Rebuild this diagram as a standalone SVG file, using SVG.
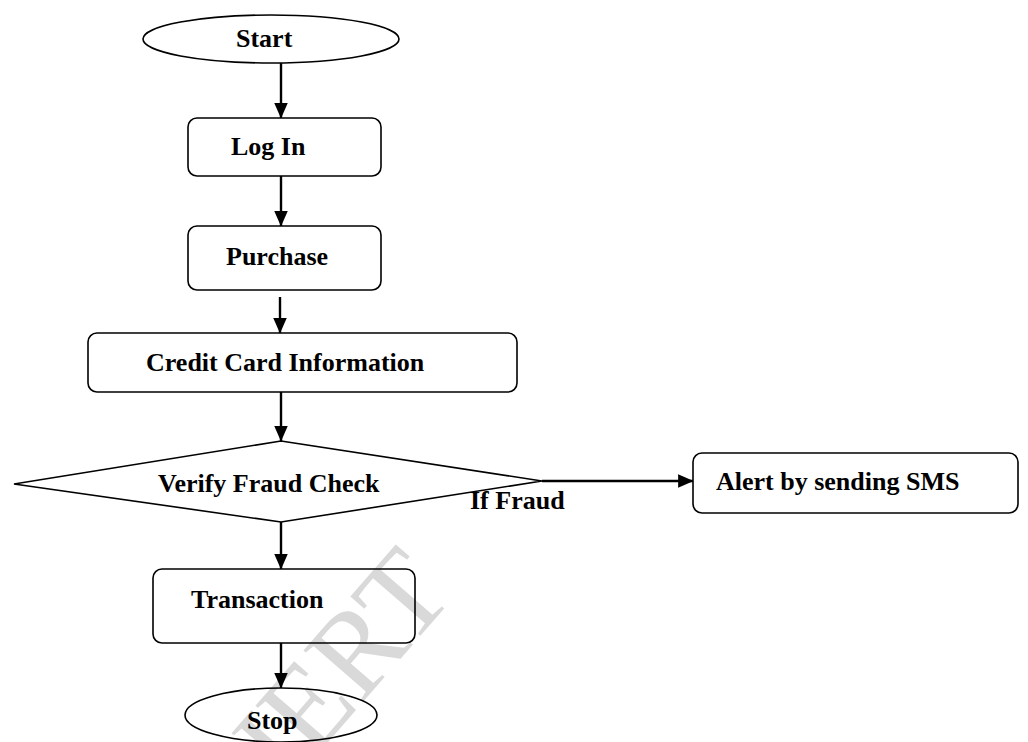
<svg xmlns="http://www.w3.org/2000/svg" width="1028" height="742" viewBox="0 0 1028 742">
<style>
.box{fill:none;stroke:#000;stroke-width:1.6}
.lbl{font-family:"Liberation Serif","Times New Roman",serif;font-weight:bold;font-size:26px;fill:#000}
.edge{stroke:#000;stroke-width:2.4;fill:none;marker-end:url(#ah)}
.wm{font-family:"Liberation Serif","Times New Roman",serif;font-size:120px;fill:#d9d9d9}
</style>
<defs>
<marker id="ah" markerWidth="6.4" markerHeight="5.6" refX="6.2" refY="2.8" orient="auto" markerUnits="strokeWidth">
<path d="M0,0 L6.4,2.8 L0,5.6 z" fill="#000"/>
</marker>
</defs>
<rect width="1028" height="742" fill="#fff"/>
<text class="wm" x="0" y="0" text-anchor="middle" transform="translate(356,710) rotate(-49)">IJERT</text>
<g id="connectors">
<line class="edge" x1="281" y1="63" x2="281" y2="118"/>
<line class="edge" x1="281" y1="176" x2="281" y2="226"/>
<line class="edge" x1="280" y1="297" x2="280" y2="333"/>
<line class="edge" x1="281" y1="392" x2="281" y2="441"/>
<line class="edge" x1="542" y1="481" x2="693" y2="481"/>
<line class="edge" x1="281" y1="522" x2="281" y2="569"/>
<line class="edge" x1="281" y1="643" x2="281" y2="688"/>
</g>
<g id="start">
<ellipse class="box" cx="271" cy="39" rx="128" ry="24"/>
<text class="lbl" x="236" y="47">Start</text>
</g>
<g id="login">
<rect class="box" x="188" y="118" width="193" height="58" rx="9"/>
<text class="lbl" x="231" y="155">Log In</text>
</g>
<g id="purchase">
<rect class="box" x="188" y="226" width="193" height="64" rx="9"/>
<text class="lbl" x="226" y="265">Purchase</text>
</g>
<g id="credit">
<rect class="box" x="88" y="333" width="429" height="59" rx="9"/>
<text class="lbl" x="146" y="371">Credit Card Information</text>
</g>
<g id="verify">
<polygon class="box" points="281,441 542,481 281,522 14,484"/>
<text class="lbl" x="158" y="492">Verify Fraud Check</text>
<text class="lbl" x="470" y="509">If Fraud</text>
</g>
<g id="alert">
<rect class="box" x="693" y="453" width="325" height="60" rx="9"/>
<text class="lbl" x="716" y="490">Alert by sending SMS</text>
</g>
<g id="transaction">
<rect class="box" x="153" y="569" width="262" height="74" rx="9"/>
<text class="lbl" x="191" y="608">Transaction</text>
</g>
<g id="stop">
<ellipse class="box" cx="281" cy="715" rx="96" ry="27"/>
<text class="lbl" x="247" y="729">Stop</text>
</g>
</svg>
